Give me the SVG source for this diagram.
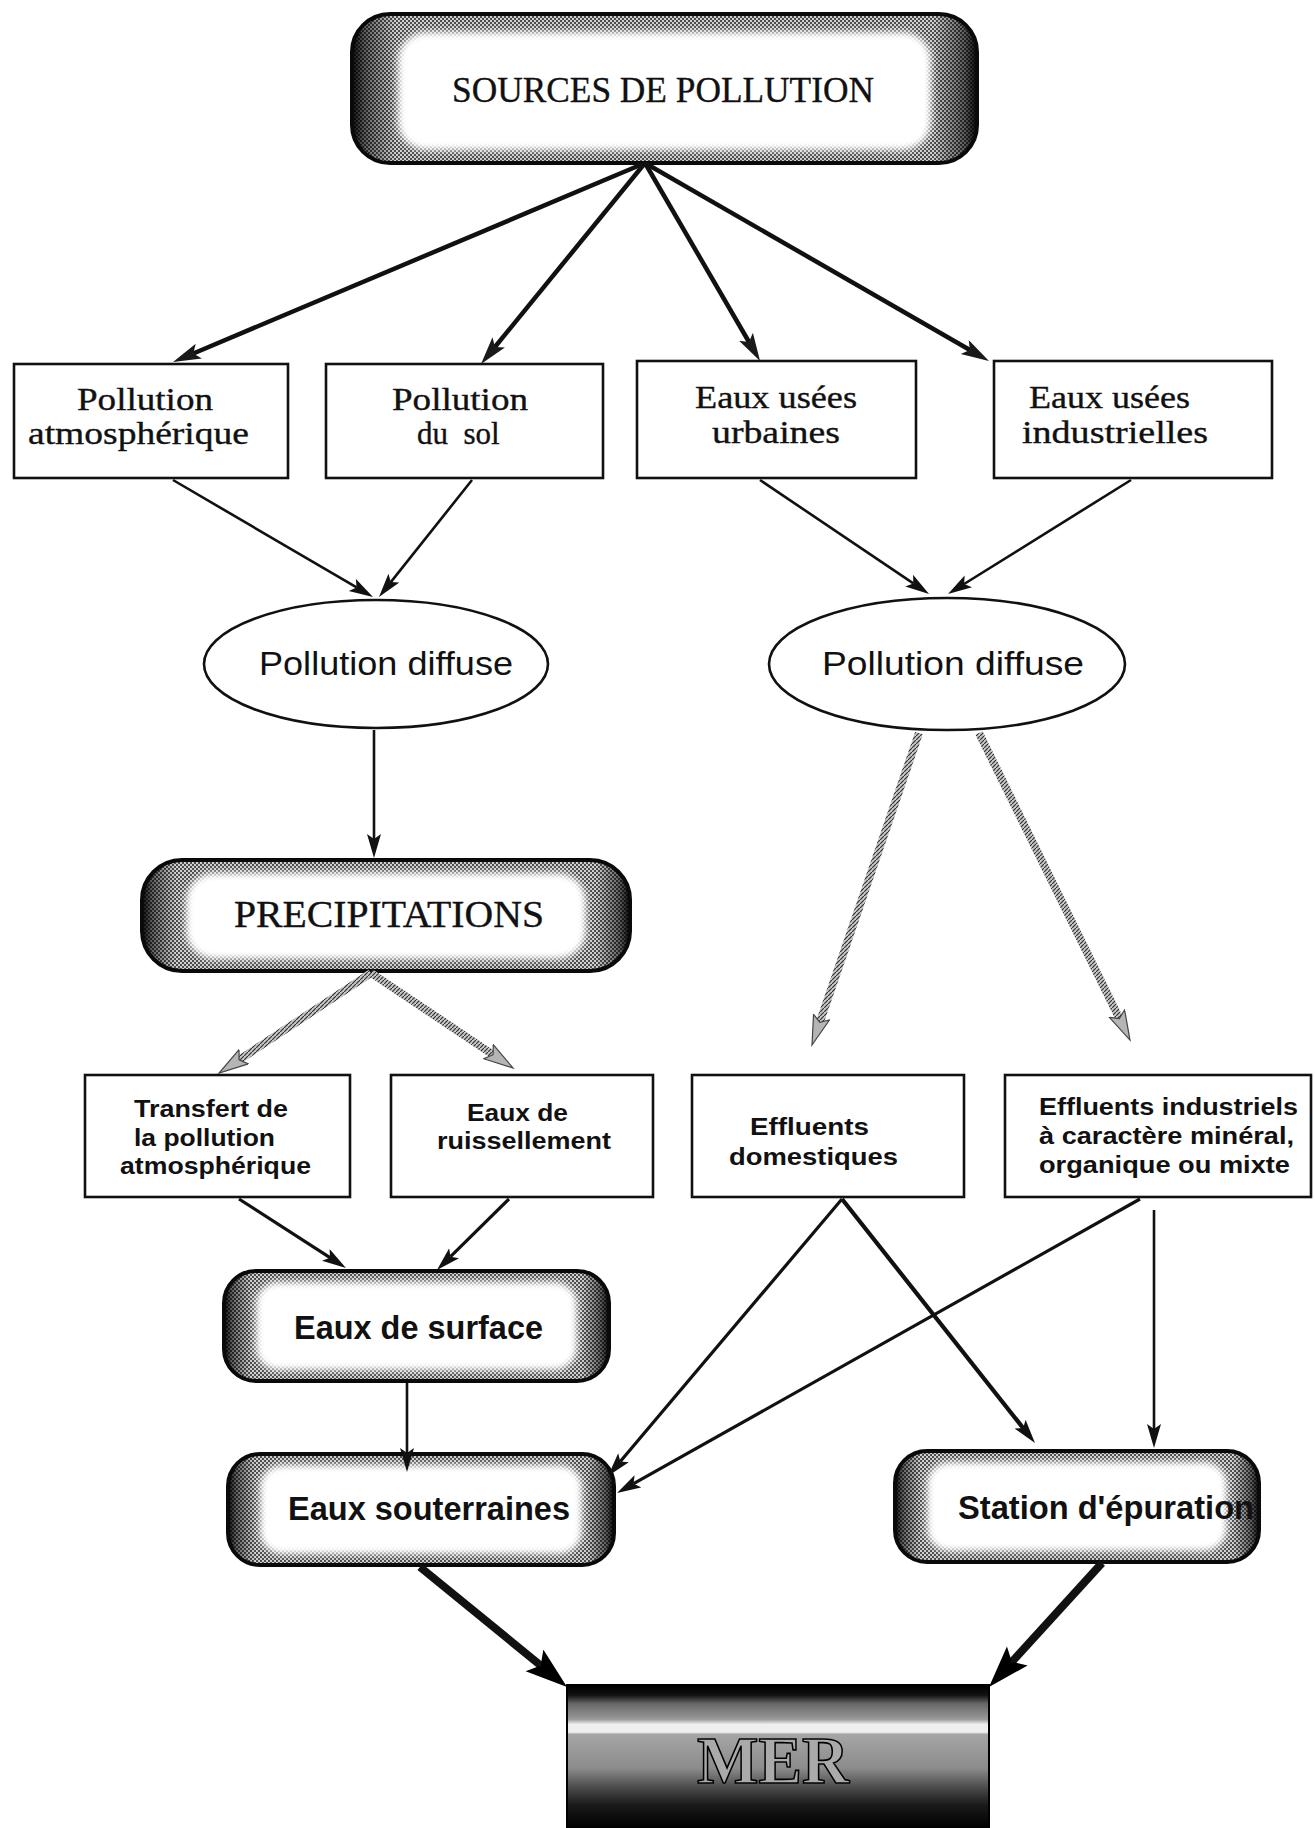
<svg xmlns="http://www.w3.org/2000/svg" width="1315" height="1828" viewBox="0 0 1315 1828">
<style>
.bg{fill:#fff}
.box{fill:#fff;stroke:#111;stroke-width:2.6}
.ell{fill:#fff;stroke:#111;stroke-width:2.6}
.tex{fill:url(#dots);stroke:none}
.shade{fill:url(#edge);stroke:none}
.inner{fill:#fff;stroke:none;filter:url(#soft)}
.frame{fill:none;stroke:#0a0a0a;stroke-width:4}
.serif{font-family:"Liberation Serif","DejaVu Serif",serif;fill:#111;stroke:#111;stroke-width:0.35}
.sans{font-family:"Liberation Sans",Arial,sans-serif;fill:#111}
.bold{font-weight:bold}
.c{fill:none;stroke:#111;stroke-linecap:butt}
.w4{stroke-width:4.5;marker-end:url(#hA)}
.w2{stroke-width:2.6;marker-end:url(#hM)}
.w3{stroke-width:3.2;marker-end:url(#hM)}
.g{stroke:url(#hatch);stroke-width:8;marker-end:url(#hG)}
.thick{stroke-width:8;marker-end:url(#hB)}
</style>
<defs>
<filter id="soft" x="-10%" y="-20%" width="120%" height="140%">
<feGaussianBlur stdDeviation="3.5"/>
</filter>
<pattern id="hatch" width="4" height="4" patternUnits="userSpaceOnUse">
<rect width="4" height="4" fill="#c8c8c8"/>
<path d="M0,4 L4,0" stroke="#333" stroke-width="1.2"/>
</pattern>
<pattern id="dots" width="4" height="4" patternUnits="userSpaceOnUse">
<rect width="4" height="4" fill="#e6e6e6"/>
<rect width="2" height="2" fill="#555"/>
<rect x="2" y="2" width="2" height="2" fill="#555"/>
</pattern>
<linearGradient id="edge" x1="0" y1="0" x2="1" y2="0">
<stop offset="0" stop-color="#000" stop-opacity="0.95"/>
<stop offset="0.02" stop-color="#000" stop-opacity="0.6"/>
<stop offset="0.07" stop-color="#000" stop-opacity="0.1"/>
<stop offset="0.93" stop-color="#000" stop-opacity="0.1"/>
<stop offset="0.98" stop-color="#000" stop-opacity="0.6"/>
<stop offset="1" stop-color="#000" stop-opacity="0.95"/>
</linearGradient>
<linearGradient id="mer" x1="0" y1="0" x2="0" y2="1">
<stop offset="0" stop-color="#000"/>
<stop offset="0.07" stop-color="#111"/>
<stop offset="0.13" stop-color="#666"/>
<stop offset="0.24" stop-color="#9a9a9a"/>
<stop offset="0.275" stop-color="#eee"/>
<stop offset="0.33" stop-color="#eee"/>
<stop offset="0.345" stop-color="#a5a5a5"/>
<stop offset="0.58" stop-color="#8c8c8c"/>
<stop offset="0.72" stop-color="#4a4a4a"/>
<stop offset="0.84" stop-color="#1a1a1a"/>
<stop offset="1" stop-color="#000"/>
</linearGradient>
<marker id="hA" markerUnits="userSpaceOnUse" markerWidth="30" markerHeight="18" refX="6" refY="8" orient="auto">
<path d="M0,0 L28,8 L0,16 L6,8 Z" fill="#1a1a1a"/>
</marker>
<marker id="hM" markerUnits="userSpaceOnUse" markerWidth="26" markerHeight="16" refX="5" refY="7" orient="auto">
<path d="M0,0 L24,7 L0,14 L5,7 Z" fill="#111"/>
</marker>
<marker id="hG" markerUnits="userSpaceOnUse" markerWidth="32" markerHeight="20" refX="6" refY="9" orient="auto">
<path d="M0.5,0.5 L30,9 L0.5,17.5 L6,9 Z" fill="#b5b5b5" stroke="#444" stroke-width="1.2"/>
</marker>
<marker id="hB" markerUnits="userSpaceOnUse" markerWidth="44" markerHeight="30" refX="8" refY="14" orient="auto">
<path d="M0,0 L42,14 L0,28 L8,14 Z" fill="#000"/>
</marker>
</defs>
<rect class="bg" x="0" y="0" width="1315" height="1828"/>

<g id="sources">
<rect class="tex" x="352" y="14" width="625" height="149" rx="38"/>
<rect class="shade" x="352" y="14" width="625" height="149" rx="38"/>
<rect class="inner" x="398" y="32" width="533" height="118" rx="28"/>
<rect class="frame" x="352" y="14" width="625" height="149" rx="38"/>
<text class="serif" x="452" y="102" font-size="35" textLength="422" lengthAdjust="spacingAndGlyphs">SOURCES DE POLLUTION</text>
</g>

<g id="pollution-atmospherique">
<rect class="box" x="14" y="364" width="274" height="114"/>
<text class="serif" x="77" y="410" font-size="31" textLength="136" lengthAdjust="spacingAndGlyphs">Pollution</text>
<text class="serif" x="28" y="444" font-size="31" textLength="221" lengthAdjust="spacingAndGlyphs">atmosphérique</text>
</g>

<g id="pollution-sol">
<rect class="box" x="326" y="364" width="277" height="114"/>
<text class="serif" x="392" y="410" font-size="31" textLength="136" lengthAdjust="spacingAndGlyphs">Pollution</text>
<text class="serif" x="417" y="444" font-size="31">du&#160; sol</text>
</g>

<g id="eaux-usees-urbaines">
<rect class="box" x="637" y="361" width="279" height="117"/>
<text class="serif" x="695" y="408" font-size="31" textLength="162" lengthAdjust="spacingAndGlyphs">Eaux usées</text>
<text class="serif" x="712" y="443" font-size="31" textLength="128" lengthAdjust="spacingAndGlyphs">urbaines</text>
</g>

<g id="eaux-usees-industrielles">
<rect class="box" x="994" y="361" width="278" height="117"/>
<text class="serif" x="1029" y="408" font-size="31" textLength="161" lengthAdjust="spacingAndGlyphs">Eaux usées</text>
<text class="serif" x="1022" y="443" font-size="31" textLength="186" lengthAdjust="spacingAndGlyphs">industrielles</text>
</g>

<g id="pollution-diffuse-1">
<ellipse class="ell" cx="376" cy="664" rx="172" ry="64"/>
<text class="sans" x="259" y="675" font-size="33" textLength="254" lengthAdjust="spacingAndGlyphs">Pollution diffuse</text>
</g>

<g id="pollution-diffuse-2">
<ellipse class="ell" cx="947" cy="664" rx="178" ry="66"/>
<text class="sans" x="822" y="675" font-size="33" textLength="262" lengthAdjust="spacingAndGlyphs">Pollution diffuse</text>
</g>

<g id="precipitations">
<rect class="tex" x="142" y="860" width="488" height="111" rx="40"/>
<rect class="shade" x="142" y="860" width="488" height="111" rx="40"/>
<rect class="inner" x="186" y="873" width="400" height="86" rx="28"/>
<rect class="frame" x="142" y="860" width="488" height="111" rx="40"/>
<text class="serif" x="234" y="927" font-size="37" textLength="310" lengthAdjust="spacingAndGlyphs">PRECIPITATIONS</text>
</g>

<g id="transfert">
<rect class="box" x="85" y="1075" width="265" height="122"/>
<text class="sans bold" x="134" y="1117" font-size="23" textLength="154" lengthAdjust="spacingAndGlyphs">Transfert de</text>
<text class="sans bold" x="134" y="1146" font-size="23" textLength="141" lengthAdjust="spacingAndGlyphs">la pollution</text>
<text class="sans bold" x="120" y="1174" font-size="23" textLength="191" lengthAdjust="spacingAndGlyphs">atmosphérique</text>
</g>

<g id="ruissellement">
<rect class="box" x="391" y="1075" width="262" height="122"/>
<text class="sans bold" x="467" y="1121" font-size="23" textLength="101" lengthAdjust="spacingAndGlyphs">Eaux de</text>
<text class="sans bold" x="437" y="1149" font-size="23" textLength="174" lengthAdjust="spacingAndGlyphs">ruissellement</text>
</g>

<g id="effluents-domestiques">
<rect class="box" x="692" y="1075" width="272" height="122"/>
<text class="sans bold" x="750" y="1135" font-size="23" textLength="119" lengthAdjust="spacingAndGlyphs">Effluents</text>
<text class="sans bold" x="729" y="1165" font-size="23" textLength="169" lengthAdjust="spacingAndGlyphs">domestiques</text>
</g>

<g id="effluents-industriels">
<rect class="box" x="1005" y="1075" width="306" height="122"/>
<text class="sans bold" x="1039" y="1115" font-size="23" textLength="259" lengthAdjust="spacingAndGlyphs">Effluents industriels</text>
<text class="sans bold" x="1039" y="1144" font-size="23" textLength="255" lengthAdjust="spacingAndGlyphs">à caractère minéral,</text>
<text class="sans bold" x="1039" y="1173" font-size="23" textLength="251" lengthAdjust="spacingAndGlyphs">organique ou mixte</text>
</g>

<g id="eaux-surface">
<rect class="tex" x="224" y="1271" width="385" height="110" rx="32"/>
<rect class="shade" x="224" y="1271" width="385" height="110" rx="32"/>
<rect class="inner" x="256" y="1282" width="321" height="88" rx="22"/>
<rect class="frame" x="224" y="1271" width="385" height="110" rx="32"/>
<text class="sans bold" x="294" y="1339" font-size="33" textLength="249" lengthAdjust="spacingAndGlyphs">Eaux de surface</text>
</g>

<g id="eaux-souterraines">
<rect class="tex" x="228" y="1454" width="386" height="111" rx="32"/>
<rect class="shade" x="228" y="1454" width="386" height="111" rx="32"/>
<rect class="inner" x="260" y="1465" width="322" height="89" rx="22"/>
<rect class="frame" x="228" y="1454" width="386" height="111" rx="32"/>
<text class="sans bold" x="288" y="1520" font-size="33" textLength="282" lengthAdjust="spacingAndGlyphs">Eaux souterraines</text>
</g>

<g id="station-epuration">
<rect class="tex" x="895" y="1451" width="364" height="111" rx="32"/>
<rect class="shade" x="895" y="1451" width="364" height="111" rx="32"/>
<rect class="inner" x="927" y="1462" width="300" height="89" rx="22"/>
<rect class="frame" x="895" y="1451" width="364" height="111" rx="32"/>
<text class="sans bold" x="958" y="1519" font-size="33" textLength="296" lengthAdjust="spacingAndGlyphs">Station d'épuration</text>
</g>

<g id="mer">
<rect x="567" y="1685" width="422" height="143" fill="url(#mer)" stroke="#000" stroke-width="2"/>
<text x="697" y="1783" font-size="68" textLength="152" lengthAdjust="spacingAndGlyphs" style="font-family:'Liberation Serif','DejaVu Serif',serif;font-weight:bold;fill:#aaa;stroke:#000;stroke-width:1.6">MER</text>
</g>

<g id="connectors">
<line class="c w4" x1="645" y1="163" x2="193.3" y2="353.5"/>
<line class="c w4" x1="645" y1="163" x2="494.9" y2="347"/>
<line class="c w4" x1="645" y1="163" x2="749" y2="342"/>
<line class="c w4" x1="645" y1="163" x2="969.9" y2="350"/>
<line class="c w2" x1="173" y1="480" x2="356.6" y2="587.4"/>
<line class="c w2" x1="472" y1="480" x2="390.8" y2="582.1"/>
<line class="c w2" x1="760" y1="480" x2="913.3" y2="583.4"/>
<line class="c w2" x1="1131" y1="480" x2="964.1" y2="584"/>
<line class="c w2" x1="374" y1="730" x2="374" y2="839"/>
<line class="c g" x1="371" y1="973" x2="239.1" y2="1059.8"/>
<line class="c g" x1="371" y1="973" x2="493.1" y2="1054.7"/>
<line class="c g" x1="919" y1="733" x2="819.8" y2="1022.3"/>
<line class="c g" x1="979" y1="733" x2="1119.4" y2="1018.5"/>
<line class="c w3" x1="239" y1="1199" x2="330" y2="1257.7"/>
<line class="c w3" x1="509" y1="1199" x2="450.5" y2="1256.7"/>
<line class="c w2" x1="407" y1="1383" x2="407" y2="1453"/>
<line class="c w3" x1="842" y1="1199" x2="620.3" y2="1461.5"/>
<line class="c" style="stroke-width:4.2;marker-end:url(#hM)" x1="842" y1="1199" x2="1023.2" y2="1428.1"/>
<line class="c w3" x1="1140" y1="1199" x2="633.6" y2="1483.7"/>
<line class="c w2" x1="1154" y1="1210" x2="1154" y2="1429"/>
<line class="c thick" x1="420" y1="1567" x2="540.7" y2="1665.5"/>
<line class="c thick" x1="1102" y1="1563" x2="1011.9" y2="1661.9"/>
</g>
</svg>
